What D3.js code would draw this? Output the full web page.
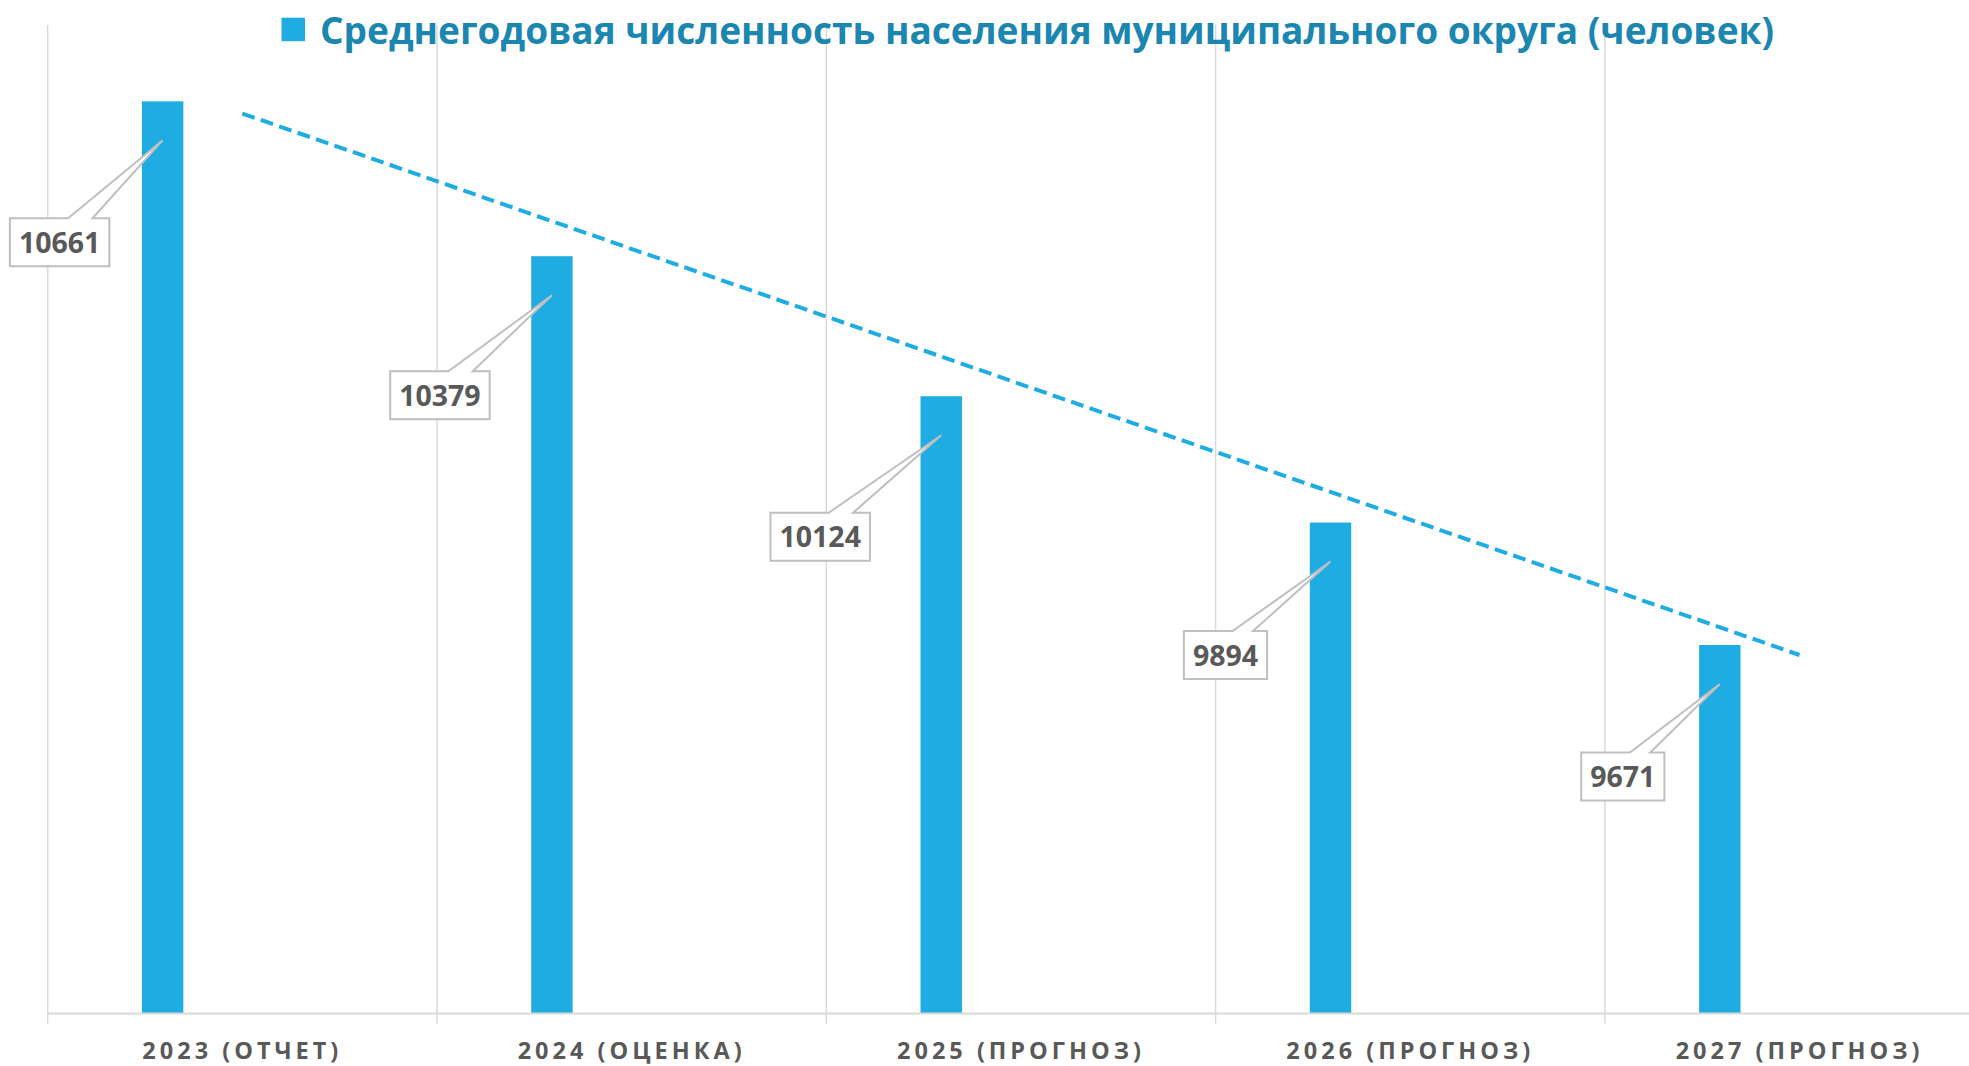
<!DOCTYPE html>
<html>
<head>
<meta charset="utf-8">
<script src="https://cdn.jsdelivr.net/npm/d3@7"></script>
<style>
  html, body { margin: 0; padding: 0; background: #ffffff; }
  svg { display: block; }
</style>
</head>
<body>
<svg id="chart" width="1969" height="1066"></svg>
<script>
// ---------------- data ----------------
const categories = ["2023 (ОТЧЕТ)", "2024 (ОЦЕНКА)", "2025 (ПРОГНОЗ)", "2026 (ПРОГНОЗ)", "2027 (ПРОГНОЗ)"];
const populationValues = [10661, 10379, 10124, 9894, 9671];
const seriesName = "Среднегодовая численность населения муниципального округа (человек)";
const yDomain = [9000, 10800];

// ---------------- layout (not data) ----------------
const W = 1969, H = 1066;
const plotLeft = 47.7, bandStep = 389.3;
const plotTop = 25, plotBottom = 1013.5;
const barColor = "#1eace2";
const gridColor = "#d9d9d9";
const labelColor = "#595959";
// manual callout placement offsets (box centre relative to bar top centre)
const calloutDx = [-103, -112, -121, -105, -97];
const calloutDy = [141, 139, 140.5, 132.5, 131.5];

const svg = d3.select("#chart");

const x = d3.scaleBand()
  .domain(categories)
  .range([plotLeft, plotLeft + bandStep * categories.length])
  .paddingInner(0).paddingOuter(0);

const y = d3.scaleLinear().domain(yDomain).range([plotBottom, plotTop]);

const barW = 41.4;
const barOffset = x.bandwidth() * 0.2952 - barW / 2;
const barCx = (c) => x(c) + barOffset + barW / 2;

// ---------------- gridlines (category boundaries) ----------------
const boundaries = categories.map(c => x(c));
svg.append("g").selectAll("line").data(boundaries).join("line")
  .attr("x1", d => d).attr("x2", d => d)
  .attr("y1", plotTop).attr("y2", plotBottom)
  .attr("stroke", gridColor).attr("stroke-width", 1.5);

// ---------------- bars ----------------
const data = categories.map((c, i) => ({ c, v: populationValues[i], i }));
svg.append("g").selectAll("rect").data(data).join("rect")
  .attr("x", d => x(d.c) + barOffset)
  .attr("width", barW)
  .attr("y", d => y(d.v))
  .attr("height", d => y(yDomain[0]) - y(d.v))
  .attr("fill", barColor);

// ---------------- x axis ----------------
const axisG = svg.append("g").attr("transform", `translate(0,${plotBottom})`);
axisG.append("line")
  .attr("x1", plotLeft).attr("x2", W)
  .attr("y1", 0).attr("y2", 0)
  .attr("stroke", gridColor).attr("stroke-width", 2);
axisG.selectAll("line.tick").data(boundaries).join("line")
  .attr("class", "tick")
  .attr("x1", d => d).attr("x2", d => d)
  .attr("y1", 0).attr("y2", 10)
  .attr("stroke", gridColor).attr("stroke-width", 1.5);

const xAxis = d3.axisBottom(x).tickSize(0).tickPadding(0);
const labelAxis = svg.append("g").attr("transform", `translate(0,${plotBottom})`).call(xAxis);
labelAxis.select(".domain").remove();
labelAxis.selectAll("text")
  .attr("y", 45).attr("dy", null)
  .attr("font-family", "'Open Sans', sans-serif")
  .attr("font-weight", 700)
  .attr("font-size", 23.5)
  .attr("letter-spacing", "4px")
  .attr("fill", labelColor);

// ---------------- trendline (linear regression of the series) ----------------
const n = populationValues.length;
const xs = d3.range(n);
const mx = d3.mean(xs), my = d3.mean(populationValues);
const slope = d3.sum(xs, (k) => (k - mx) * (populationValues[k] - my)) / d3.sum(xs, (k) => (k - mx) ** 2);
const intercept = my - slope * mx;
const trendPts = [0, n - 1].map(k => [x(categories[k]) + x.bandwidth() / 2, y(intercept + slope * k)]);
svg.append("path")
  .attr("d", d3.line()(trendPts))
  .attr("fill", "none")
  .attr("stroke", barColor)
  .attr("stroke-width", 4)
  .attr("stroke-dasharray", "13,6.5");

// ---------------- callout data labels ----------------
const fmt = d3.format("d");
const callG = svg.append("g");
data.forEach((d) => {
  const g = callG.append("g");
  const txt = g.append("text")
    .attr("font-family", "'Open Sans', sans-serif")
    .attr("font-weight", 700)
    .attr("font-size", 28.5)
    .attr("fill", labelColor)
    .attr("text-anchor", "middle")
    .text(fmt(d.v));
  const tw = txt.node().getComputedTextLength();
  const bw = tw + 18, bh = 48;
  const bx = barCx(d.c);
  const by = y(d.v);
  const cx = bx + calloutDx[d.i], cy = by + calloutDy[d.i];
  const l = cx - bw / 2, r = cx + bw / 2, t = cy - bh / 2, b = cy + bh / 2;
  const tip = [bx, by + 39];
  const b1 = cx + bw * 0.085, b2 = cx + bw * 0.33;
  const p = d3.path();
  p.moveTo(l, t); p.lineTo(b1, t); p.lineTo(tip[0], tip[1]); p.lineTo(b2, t);
  p.lineTo(r, t); p.lineTo(r, b); p.lineTo(l, b); p.closePath();
  g.insert("path", "text")
    .attr("d", p.toString())
    .attr("fill", "#ffffff")
    .attr("stroke", "#bfbfbf")
    .attr("stroke-width", 2)
    .attr("stroke-linejoin", "miter");
  txt.attr("x", cx).attr("y", cy + 10.5);
});

// ---------------- title / legend ----------------
const legend = svg.append("g");
legend.append("rect")
  .attr("x", 281.5).attr("y", 17.7).attr("width", 23.5).attr("height", 23.5)
  .attr("fill", barColor);
legend.append("text")
  .attr("x", 320).attr("y", 44)
  .attr("font-family", "'Open Sans', sans-serif")
  .attr("font-weight", 700)
  .attr("font-size", 37)
  .attr("fill", "#1b86b0")
  .attr("textLength", 1454)
  .attr("lengthAdjust", "spacingAndGlyphs")
  .text(seriesName);
</script>
</body>
</html>
